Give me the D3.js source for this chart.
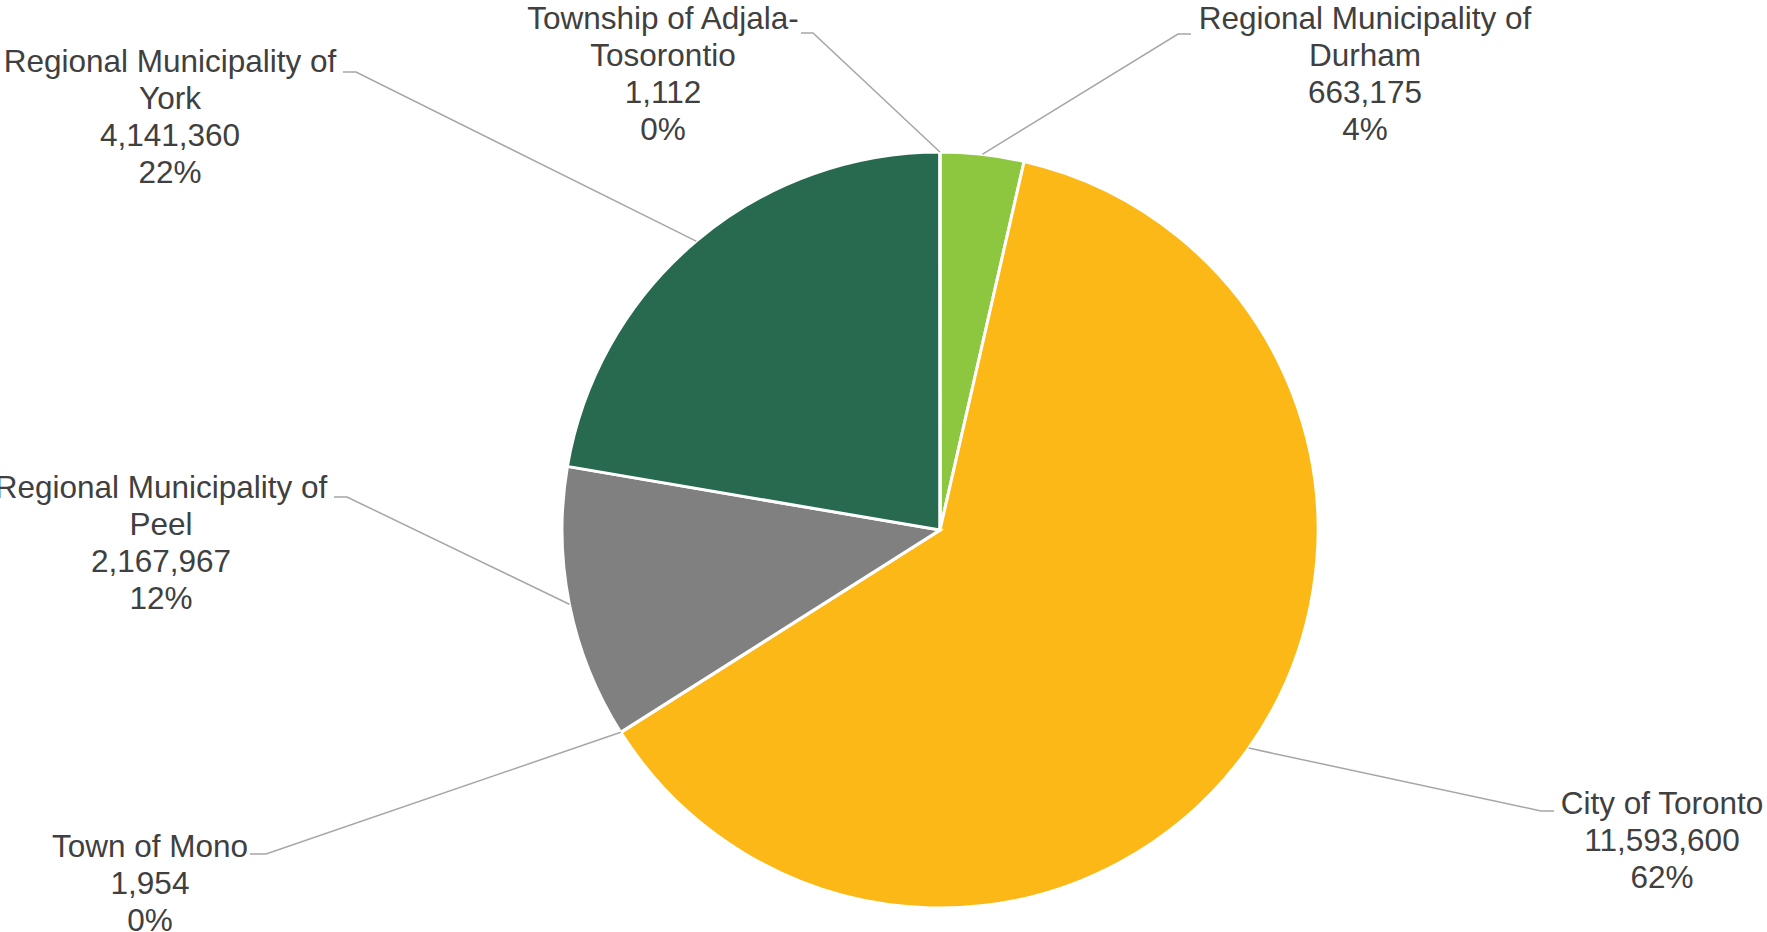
<!DOCTYPE html>
<html>
<head>
<meta charset="utf-8">
<script src="https://cdn.jsdelivr.net/npm/d3@7"></script>
<style>
  html, body { margin: 0; padding: 0; background: #fff; }
  svg { display: block; }
  text { font-family: "Liberation Sans", Arial, sans-serif; fill: #404040; }
</style>
</head>
<body>
<svg id="chart" width="1767" height="932"></svg>
<script>
// ---- data ----
const categories = [
  "Regional Municipality of Durham",
  "City of Toronto",
  "Town of Mono",
  "Regional Municipality of Peel",
  "Regional Municipality of York",
  "Township of Adjala-Tosorontio"
];
const labelLines = [
  ["Regional Municipality of", "Durham"],
  ["City of Toronto"],
  ["Town of Mono"],
  ["Regional Municipality of", "Peel"],
  ["Regional Municipality of", "York"],
  ["Township of Adjala-", "Tosorontio"]
];
const values = [663175, 11593600, 1954, 2167967, 4141360, 1112];
const colors = ["#8DC63F", "#FBB817", "#4F81BD", "#808080", "#276A4F", "#1F4E79"];

// ---- layout (label placement) ----
const labelCenterX = [1365, 1662, 150, 161, 170, 663];
const labelTopBaseline = [29, 814, 857, 498, 72, 29];
const stubs = [
  [[1191, 34], [1178, 34]],
  [[1554, 811], [1541, 811]],
  [[250, 854], [266, 854]],
  [[334, 497], [347, 497]],
  [[343, 72], [356, 72]],
  [[801, 33], [813, 33]]
];

const svg = d3.select("#chart");
const cx = 940, cy = 530, R = 378;
const lineH = 37;

const total = d3.sum(values);
const pie = d3.pie().sort(null).value(d => d).startAngle(0).endAngle(2 * Math.PI);
const arcs = pie(values);
const arc = d3.arc().innerRadius(0).outerRadius(R);

const g = svg.append("g").attr("transform", `translate(${cx},${cy})`);
g.selectAll("path.slice")
  .data(arcs)
  .join("path")
  .attr("class", "slice")
  .attr("d", arc)
  .attr("fill", (d, i) => colors[i])
  .attr("stroke", "#fff")
  .attr("stroke-width", 3)
  .attr("stroke-linejoin", "miter");

// leader lines
const fmtNum = d3.format(",");
const fmtPct = d3.format(".0%");
arcs.forEach((a, i) => {
  const mid = (a.startAngle + a.endAngle) / 2;
  const px = cx + R * Math.sin(mid);
  const py = cy - R * Math.cos(mid);
  const s = stubs[i];
  svg.append("polyline")
    .attr("points", [s[0], s[1], [px, py]].map(p => p.join(",")).join(" "))
    .attr("fill", "none")
    .attr("stroke", "#A6A6A6")
    .attr("stroke-width", 1.5);

  const lines = labelLines[i].concat([fmtNum(values[i]), fmtPct(values[i] / total)]);
  const t = svg.append("text")
    .attr("text-anchor", "middle")
    .attr("font-size", 31.5);
  lines.forEach((ln, k) => {
    t.append("tspan")
      .attr("x", labelCenterX[i])
      .attr("y", labelTopBaseline[i] + k * lineH)
      .text(ln);
  });
});
</script>
</body>
</html>
